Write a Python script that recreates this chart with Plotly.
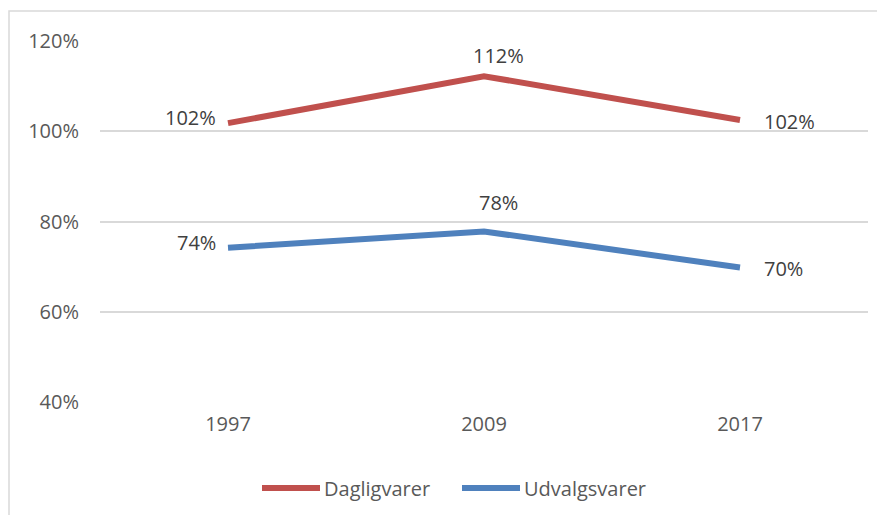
import plotly.graph_objects as go

years = ["1997", "2009", "2017"]
dagligvarer = [101.8, 112.2, 102.5]
udvalgsvarer = [74.2, 77.8, 69.8]
dag_labels = ["102%", "112%", "102%"]
udv_labels = ["74%", "78%", "70%"]
y_ticks = [40, 60, 80, 100, 120]
y_ticktext = ["40%", "60%", "80%", "100%", "120%"]
series_names = ["Dagligvarer", "Udvalgsvarer"]
colors = ["#C0504D", "#4F81BD"]

W, H = 885, 515
OFF = 8  # page body margin
L, T = 100 - OFF, 41 - OFF
pw, ph = 768, 361
R = W - L - pw
B = H - T - ph
FONT = "Open Sans"

def px_x(x):
    return (x - OFF - L) / pw

def px_y(y):
    return (H - B - (y - OFF)) / ph

fig = go.Figure()
for name, vals, col in zip(series_names, [dagligvarer, udvalgsvarer], colors):
    fig.add_trace(go.Scatter(
        x=years, y=vals, name=name, mode="lines",
        line=dict(color=col, width=6), showlegend=False, hoverinfo="skip",
    ))

# data labels: (xanchor, yanchor, xshift, yshift) per category position
label_style = [("right", "middle", -10, 0), ("center", "bottom", 14, 5), ("left", "middle", 22, 0)]
for vals, labels, yadj in [(dagligvarer, dag_labels, [6, 0, -2]), (udvalgsvarer, udv_labels, [5, 8, -1])]:
    for i, (v, t) in enumerate(zip(vals, labels)):
        xa, ya, xs, ys = label_style[i]
        fig.add_annotation(x=i, y=v, xref="x", yref="y", text=t, showarrow=False,
                           xanchor=xa, yanchor=ya, xshift=xs, yshift=ys + yadj[i],
                           font=dict(size=20, color="#404040", family=FONT))

# manual legend
leg_y = px_y(488)
leg_items = [(262, 320, 322), (462, 520, 522)]
for (x0, x1, tx), name, col in zip(leg_items, series_names, colors):
    fig.add_shape(type="line", xref="paper", yref="paper", x0=px_x(x0), x1=px_x(x1),
                  y0=leg_y, y1=leg_y, line=dict(color=col, width=6))
    fig.add_annotation(x=px_x(tx), y=leg_y, xref="paper", yref="paper", text=name,
                       showarrow=False, xanchor="left", yanchor="middle",
                       font=dict(size=20, color="#595959", family=FONT))

fig.add_shape(type="rect", xref="paper", yref="paper",
              x0=px_x(9), x1=px_x(900), y0=px_y(540), y1=px_y(11),
              line=dict(color="#D9D9D9", width=1.5), layer="below")

fig.update_layout(
    width=W, height=H,
    margin=dict(l=L, r=R, t=T, b=B, autoexpand=False),
    plot_bgcolor="white", paper_bgcolor="white",
    font=dict(family=FONT, size=20, color="#595959"),
    showlegend=False,
    xaxis=dict(type="category", range=[-0.5, 2.5], showgrid=False, zeroline=False,
               showline=False, ticks="", ticklabelstandoff=8,
               tickfont=dict(size=20, color="#595959")),
    yaxis=dict(range=[40, 120], tickvals=y_ticks, ticktext=y_ticktext,
               showgrid=True, gridcolor="#D9D9D9", gridwidth=1.5, zeroline=False,
               showline=False, ticks="", ticklabelstandoff=20,
               tickfont=dict(size=20, color="#595959")),
)
fig.write_html("out.html")
